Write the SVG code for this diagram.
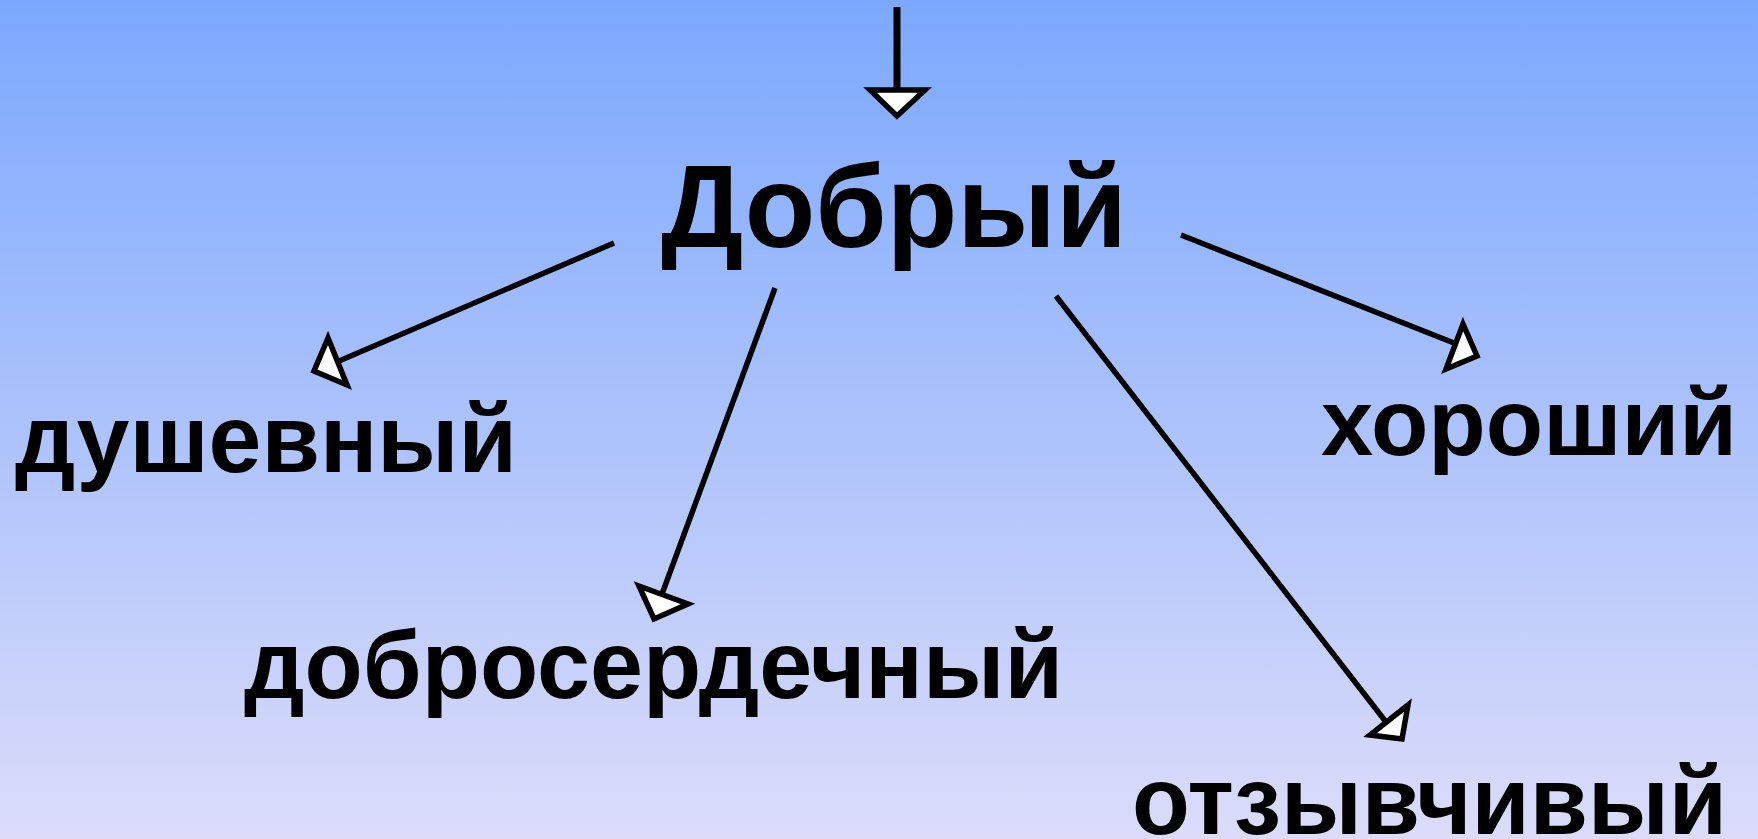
<svg xmlns="http://www.w3.org/2000/svg" width="1758" height="839" viewBox="0 0 1758 839">
<defs>
<linearGradient id="bg" x1="0" y1="0" x2="0" y2="1">
<stop offset="0" stop-color="#7BA8FE"/>
<stop offset="1" stop-color="#DCDCFA"/>
</linearGradient>
<style>
.w{font-family:"Liberation Sans",Arial,sans-serif;font-weight:bold;fill:#000;}
.ln{stroke:#000;stroke-width:5.5;fill:none;}
.hd{stroke:#000;stroke-width:5.5;fill:#fff;stroke-linejoin:miter;}
</style>
</defs>
<rect x="0" y="0" width="1758" height="839" fill="url(#bg)"/>
<g id="connectors">
<line class="ln" x1="897" y1="7" x2="897" y2="90" style="stroke-width:7"/>
<polygon class="hd" points="870,90 925,90 897,116"/>
<line class="ln" x1="614" y1="243" x2="339" y2="361"/>
<polygon class="hd" points="328,338 314,371 347,385"/>
<line class="ln" x1="775" y1="288" x2="662" y2="594"/>
<polygon class="hd" points="639,586 654,619 688,604"/>
<line class="ln" x1="1056" y1="296" x2="1386" y2="722"/>
<polygon class="hd" points="1408,705 1370,735 1402,739"/>
<line class="ln" x1="1181" y1="235" x2="1454" y2="343"/>
<polygon class="hd" points="1463,324 1477,356 1446,369"/>
</g>
<g id="node-dobryi"><text class="w" x="661" y="247" font-size="117" textLength="466" lengthAdjust="spacingAndGlyphs">Добрый</text></g>
<g id="node-dushevnyi"><text class="w" x="15" y="472" font-size="97" textLength="502" lengthAdjust="spacingAndGlyphs">душевный</text></g>
<g id="node-dobroserdechnyi"><text class="w" x="244" y="698" font-size="96" textLength="819" lengthAdjust="spacingAndGlyphs">добросердечный</text></g>
<g id="node-khoroshii"><text class="w" x="1321" y="455" font-size="95" textLength="416" lengthAdjust="spacingAndGlyphs">хороший</text></g>
<g id="node-otzyvchivyi"><text class="w" x="1132" y="834" font-size="96" textLength="595" lengthAdjust="spacingAndGlyphs">отзывчивый</text></g>
</svg>
